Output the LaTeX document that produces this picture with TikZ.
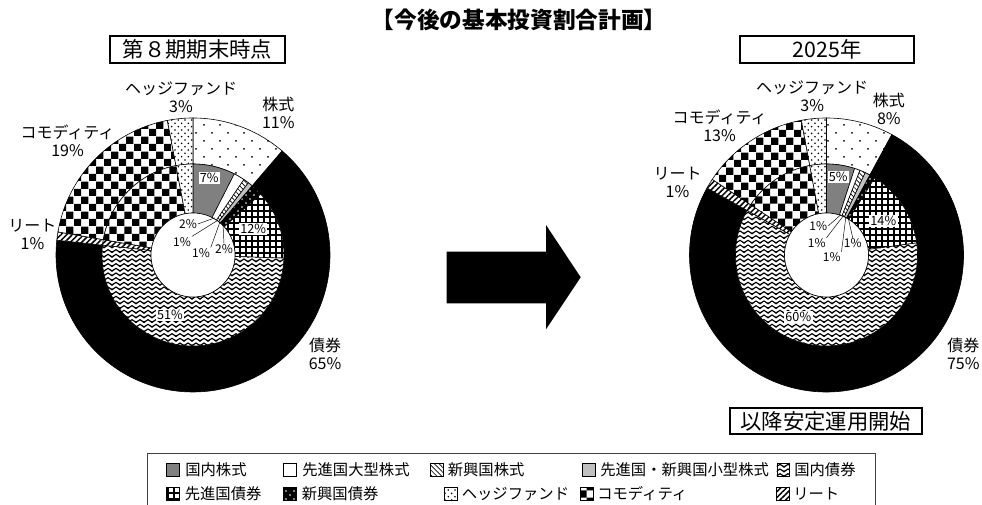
\documentclass[tikz,border=0pt]{standalone}
\usepackage{fontspec}
\setmainfont{Noto Sans CJK JP}
\usetikzlibrary{patterns,patterns.meta,calc}

\definecolor{gray50}{HTML}{808080}
\definecolor{lgray}{HTML}{C0C0C0}
\definecolor{legline}{HTML}{404040}

% sparse staggered dots
\pgfdeclarepatternformonly{sdots}{\pgfqpoint{-1pt}{-1pt}}{\pgfqpoint{13pt}{13pt}}{\pgfqpoint{12pt}{12pt}}{%
  \pgfpathcircle{\pgfqpoint{3pt}{3pt}}{0.75pt}\pgfpathcircle{\pgfqpoint{9pt}{9pt}}{0.75pt}\pgfusepath{fill}}
% dense staggered dots
\pgfdeclarepatternformonly{ddots}{\pgfqpoint{-1pt}{-1pt}}{\pgfqpoint{6pt}{6pt}}{\pgfqpoint{5pt}{5pt}}{%
  \pgfpathcircle{\pgfqpoint{1.25pt}{1.25pt}}{0.65pt}\pgfpathcircle{\pgfqpoint{3.75pt}{3.75pt}}{0.65pt}\pgfusepath{fill}}
% white dots on black
\pgfdeclarepatternformonly{wdots}{\pgfqpoint{-1pt}{-1pt}}{\pgfqpoint{7pt}{7pt}}{\pgfqpoint{6pt}{6pt}}{%
  \pgfpathcircle{\pgfqpoint{1.5pt}{1.5pt}}{0.6pt}\pgfpathcircle{\pgfqpoint{4.5pt}{4.5pt}}{0.6pt}\pgfusepath{fill}}
% checkerboard
\pgfdeclarepatternformonly{chk}{\pgfpointorigin}{\pgfqpoint{11pt}{11pt}}{\pgfqpoint{11pt}{11pt}}{%
  \pgfpathrectangle{\pgfpointorigin}{\pgfqpoint{5.5pt}{5.5pt}}%
  \pgfpathrectangle{\pgfqpoint{5.5pt}{5.5pt}}{\pgfqpoint{5.5pt}{5.5pt}}\pgfusepath{fill}}
% zigzag
\pgfdeclarepatternformonly{zz}{\pgfqpoint{-1pt}{-1pt}}{\pgfqpoint{7pt}{4.5pt}}{\pgfqpoint{6pt}{3.5pt}}{%
  \pgfsetlinewidth{0.85pt}%
  \pgfpathmoveto{\pgfqpoint{-1.5pt}{1.5pt}}\pgfpathlineto{\pgfqpoint{0pt}{0.5pt}}%
  \pgfpathlineto{\pgfqpoint{3pt}{2.5pt}}\pgfpathlineto{\pgfqpoint{6pt}{0.5pt}}%
  \pgfpathlineto{\pgfqpoint{7.5pt}{1.5pt}}\pgfusepath{stroke}}

\tikzset{
  seg/.style={draw=black, line width=0.45pt},
  pstock/.style={seg, preaction={fill=white}, pattern=sdots},
  pbond/.style={seg, fill=black},
  preit/.style={seg, preaction={fill=white}, pattern={Lines[angle=45,distance=3pt,line width=1.1pt]}},
  pcomm/.style={seg, preaction={fill=white}, pattern=chk},
  phedge/.style={seg, preaction={fill=white}, pattern=ddots},
  pdomstock/.style={seg, fill=gray50},
  pdevlarge/.style={seg, fill=white},
  pemstock/.style={seg, preaction={fill=white}, pattern={Lines[angle=-45,distance=2.6pt,line width=0.5pt]}},
  psmall/.style={seg, fill=lgray},
  pembond/.style={seg, preaction={fill=black}, pattern=wdots, pattern color=white},
  pdevbond/.style={seg, preaction={fill=white}, pattern={Hatch[angle=0,distance=4.5pt,line width=1.1pt]}},
  pdombond/.style={seg, preaction={fill=white}, pattern=zz},
  biglbl/.style={font=\fontsize{12}{13.5}\selectfont, align=center, inner sep=0pt},
  inlbl/.style={font=\fontsize{9.5}{10}\selectfont, fill=white, inner sep=1pt},
  ldrlbl/.style={font=\fontsize{9}{10}\selectfont, inner sep=0.5pt},
  leader/.style={draw=black, line width=0.35pt},
  hdrbox/.style={draw=black, line width=1.3pt, font=\fontsize{16}{18}\selectfont, inner sep=0pt},
  swatch/.style={draw=black, line width=0.4pt, minimum width=9.5pt, minimum height=9.5pt, inner sep=0pt},
  legtxt/.style={font=\fontsize{11.5}{12}\selectfont, anchor=west, inner sep=0pt},
}

% center, r inner, r outer, start angle, end angle, style
\newcommand\dseg[6]{%
  \path[#6] ($(#1)+(#4:#3)$) arc[start angle=#4, end angle=#5, radius=#3]
    -- ($(#1)+(#5:#2)$) arc[start angle=#5, end angle=#4, radius=#2] -- cycle;}

\begin{document}
\begin{tikzpicture}[x=0.75pt, y=0.75pt]
\useasboundingbox (0,0) rectangle (982,505);
\fill[white] (0,0) rectangle (982,505);

\coordinate (L) at (193,250);
\coordinate (R) at (826.5,250);

% ---------- left chart ----------
\dseg{L}{91}{137}{90}{49.4}{pstock}
\dseg{L}{91}{137}{49.4}{-186.2}{pbond}
\dseg{L}{91}{137}{173.8}{170.3}{preit}
\dseg{L}{91}{137}{170.3}{100.8}{pcomm}
\dseg{L}{91}{137}{100.8}{90}{phedge}
\dseg{L}{42}{91}{90}{63}{pdomstock}
\dseg{L}{42}{91}{63}{56}{pdevlarge}
\dseg{L}{42}{91}{56}{52.5}{pemstock}
\dseg{L}{42}{91}{52.5}{49.4}{psmall}
\dseg{L}{42}{91}{49.4}{42}{pembond}
\dseg{L}{42}{91}{42}{-2}{pdevbond}
\dseg{L}{42}{91}{-2}{-186.2}{pdombond}
\dseg{L}{42}{91}{173.8}{170.3}{preit}
\dseg{L}{42}{91}{170.3}{100.8}{pcomm}
\dseg{L}{42}{91}{100.8}{90}{phedge}
\draw[fill=white, line width=0.45pt] (L) circle[radius=42];

% ---------- right chart ----------
\dseg{R}{91}{137}{90}{61.5}{pstock}
\dseg{R}{91}{137}{61.5}{-209.3}{pbond}
\dseg{R}{91}{137}{150.7}{146.5}{preit}
\dseg{R}{91}{137}{146.5}{100.6}{pcomm}
\dseg{R}{91}{137}{100.6}{90}{phedge}
\dseg{R}{42}{91}{90}{72}{pdomstock}
\dseg{R}{42}{91}{72}{68.4}{pdevlarge}
\dseg{R}{42}{91}{68.4}{64.8}{pemstock}
\dseg{R}{42}{91}{64.8}{61.5}{psmall}
\dseg{R}{42}{91}{61.5}{58}{pembond}
\dseg{R}{42}{91}{58}{7.6}{pdevbond}
\dseg{R}{42}{91}{7.6}{-209.3}{pdombond}
\dseg{R}{42}{91}{150.7}{146.5}{preit}
\dseg{R}{42}{91}{146.5}{100.6}{pcomm}
\dseg{R}{42}{91}{100.6}{90}{phedge}
\draw[fill=white, line width=0.45pt] (R) circle[radius=42];

% ---------- inner labels ----------
\node[inlbl] (l7) at (209.3,326.7) {7\%};
\node[inlbl] (l12) at (253.3,275.7) {12\%};
\node[inlbl] (l51) at (170,190) {51\%};
\node[inlbl] (r5) at (838.3,328.3) {5\%};
\node[inlbl] (r14) at (883.3,284.3) {14\%};
\node[inlbl] (r60) at (798.3,188.3) {60\%};

% ---------- leader labels ----------
\coordinate (lt1) at (214.8,287.1);
\coordinate (lt2) at (218.1,284.9);
\coordinate (lt3) at (220.1,283.4);
\coordinate (lt4) at (223.0,280.8);
\node[ldrlbl] (la) at (188,281) {2\%};
\node[ldrlbl] (lb) at (182,263) {1\%};
\node[ldrlbl] (lc) at (201,252) {1\%};
\node[ldrlbl] (ld) at (224,256) {2\%};
\draw[leader] (la.east) -- (lt1);
\draw[leader] (lb.north east) -- (lt2);
\draw[leader] (lc.north east) -- (lt3);
\draw[leader] (ld.north) -- (lt4);

\coordinate (rt1) at (841.1,290.5);
\coordinate (rt2) at (843.6,289.5);
\coordinate (rt3) at (845.9,288.4);
\coordinate (rt4) at (848.2,287.2);
\node[ldrlbl] (ra) at (818.3,279) {1\%};
\node[ldrlbl] (rb) at (816.7,261.7) {1\%};
\node[ldrlbl] (rc) at (831.7,247.7) {1\%};
\node[ldrlbl] (rd) at (852.7,261.7) {1\%};
\draw[leader] (ra.east) -- (rt1);
\draw[leader] (rb.north east) -- (rt2);
\draw[leader] (rc.north east) -- (rt3);
\draw[leader] (rd.north) -- (rt4);

% ---------- outer labels ----------
\node[biglbl] (lhedge) at (181,407.5) {ヘッジファンド\\3\%};
\node[biglbl] (lstock) at (278.3,392) {株式\\11\%};
\node[biglbl] (lcomm) at (67.5,364) {コモディティ\\19\%};
\node[biglbl] (lreit) at (32.5,270.5) {リート\\1\%};
\node[biglbl] (lbond) at (325,151) {債券\\65\%};

\node[biglbl] (rhedge) at (812.2,408.5) {ヘッジファンド\\3\%};
\node[biglbl] (rstock) at (888.8,396) {株式\\8\%};
\node[biglbl] (rcomm) at (719.6,379.5) {コモディティ\\13\%};
\node[biglbl] (rreit) at (677.5,323) {リート\\1\%};
\node[biglbl] (rbond) at (963.3,151) {債券\\75\%};

% ---------- title and boxes ----------
\node[font=\fontsize{17}{19}\selectfont\bfseries, inner sep=0pt] (title) at (519,485) {【今後の基本投資割合計画】};
\node[hdrbox, minimum width=131.25pt, minimum height=20.25pt] (boxL) at (197.5,455.5) {第８期期末時点};
\node[hdrbox, minimum width=130.5pt, minimum height=20.5pt] (boxR) at (827,455.3) {2025年};
\node[hdrbox, minimum width=143.8pt, minimum height=19.3pt] (boxB) at (825.8,83.8) {以降安定運用開始};

% ---------- arrow ----------
\fill[black] (446.7,253.3) -- (546,253.3) -- (546,280) -- (580.7,227.7) -- (546,175.7) -- (546,201.7) -- (446.7,201.7) -- cycle;

% ---------- legend ----------
\draw[legline, line width=0.6pt] (147.3,51.7) rectangle (875,-10);

\node[swatch, fill=gray50] (s1) at (173,35.5) {};
\node[legtxt] (t1) at (185,35.5) {国内株式};
\node[swatch, fill=white] (s2) at (290,35.5) {};
\node[legtxt] (t2) at (302,35.5) {先進国大型株式};
\node[swatch, pemstock] (s3) at (437,35.5) {};
\node[legtxt] (t3) at (447.5,35.5) {新興国株式};
\node[swatch, fill=lgray] (s4) at (589,35.5) {};
\node[legtxt] (t4) at (600,35.5) {先進国・新興国小型株式};
\node[swatch, pdombond] (s5) at (783.3,35.5) {};
\node[legtxt] (t5) at (794,35.5) {国内債券};

\node[swatch, pdevbond] (s6) at (173,11) {};
\node[legtxt] (t6) at (184.5,11) {先進国債券};
\node[swatch, pembond] (s7) at (290,11) {};
\node[legtxt] (t7) at (301.5,11) {新興国債券};
\node[swatch, phedge] (s8) at (451,11) {};
\node[legtxt] (t8) at (461.5,11) {ヘッジファンド};
\node[swatch, pcomm] (s9) at (587,11) {};
\node[legtxt] (t9) at (597,11) {コモディティ};
\node[swatch, preit] (s10) at (782.5,11) {};
\node[legtxt] (t10) at (793,11) {リート};
\end{tikzpicture}
\end{document}
